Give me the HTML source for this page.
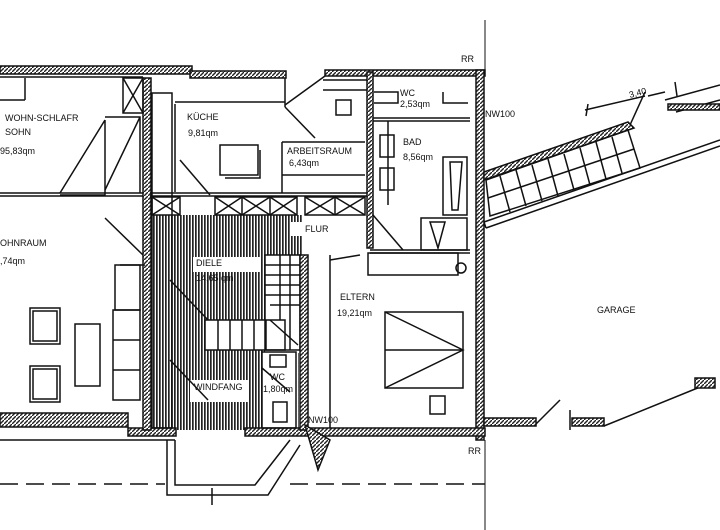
<!DOCTYPE html>
<html><head><meta charset="utf-8"><style>
html,body{margin:0;padding:0;background:#fff;}
svg{display:block;}
text{font-family:"Liberation Sans",sans-serif;fill:#111;font-size:9px;}
</style></head><body>
<svg width="720" height="530" viewBox="0 0 720 530" xmlns="http://www.w3.org/2000/svg">
<defs>
<pattern id="h" width="3" height="3" patternUnits="userSpaceOnUse">
<rect width="3" height="3" fill="#fff"/><rect width="1.7" height="3" fill="#222"/>
</pattern>
<pattern id="w" width="4" height="4" patternUnits="userSpaceOnUse">
<rect width="4" height="4" fill="#fff"/><path d="M0 4L4 0" stroke="#222" stroke-width="1.4"/>
</pattern>
</defs>
<g stroke="#111" fill="none" stroke-width="1.5">
<rect x="152" y="215" width="150" height="215" fill="url(#h)" stroke="none"/>
<rect x="265" y="255" width="37" height="98" fill="#fff" stroke="none"/>
<rect x="205" y="320" width="70" height="30" fill="#fff" stroke="none"/>
<rect x="262" y="352" width="36" height="78" fill="#fff" stroke="none"/>
<rect x="193" y="257" width="68" height="15" fill="#fff" stroke="none"/>
<rect x="190" y="380" width="58" height="22" fill="#fff" stroke="none"/>
<rect x="290" y="222" width="50" height="14" fill="#fff" stroke="none"/>
<rect x="0" y="66" width="192" height="8" fill="url(#w)"/>
<rect x="190" y="71" width="96" height="7" fill="url(#w)"/>
<rect x="325" y="70" width="160" height="6" fill="url(#w)"/>
<rect x="476" y="70" width="8" height="370" fill="url(#w)"/>
<rect x="0" y="413" width="128" height="14" fill="url(#w)"/>
<rect x="128" y="428" width="48" height="8" fill="url(#w)"/>
<rect x="245" y="428" width="240" height="8" fill="url(#w)"/>
<line x1="0" y1="440" x2="175" y2="440"/>
<rect x="143" y="78" width="8" height="352" fill="url(#w)"/>
<rect x="152" y="93" width="20" height="335"/>
<line x1="0" y1="193" x2="143" y2="193"/><line x1="0" y1="196" x2="143" y2="196"/>
<line x1="0" y1="77" x2="143" y2="77"/>
<line x1="25" y1="78" x2="25" y2="100"/><line x1="0" y1="100" x2="25" y2="100"/>
<rect x="123" y="78" width="20" height="35"/>
<path d="M123 78L143 113M143 78L123 113"/>
<path d="M105 120V195L60 195M105 120L60 193"/>
<path d="M105 117H140V193M140 117L105 190"/>
<path d="M105 218L143 255"/>
<line x1="175" y1="102" x2="285" y2="102"/>
<line x1="175" y1="104" x2="175" y2="192"/>
<line x1="285" y1="78" x2="285" y2="107"/>
<path d="M285 107L315 138"/>
<rect x="220" y="145" width="38" height="30"/><path d="M225 178H260V150"/>
<path d="M180 160L210 195"/>
<line x1="150" y1="193" x2="370" y2="193"/><line x1="150" y1="196" x2="370" y2="196"/>
<path d="M282 142V193M282 142H365M282 175H365"/>
<path d="M325 76L285 105"/>
<rect x="336" y="100" width="15" height="15"/>
<line x1="323" y1="80" x2="370" y2="80"/><line x1="323" y1="90" x2="370" y2="90"/>
<g>
<rect x="152" y="197" width="28" height="18"/><path d="M152 197L180 215M152 215L180 197"/>
<rect x="215" y="197" width="82" height="18"/>
<path d="M215 197L242 215M215 215L242 197M242 197L270 215M242 215L270 197M270 197L297 215M270 215L297 197"/>
<line x1="242" y1="197" x2="242" y2="215"/><line x1="270" y1="197" x2="270" y2="215"/>
<rect x="305" y="197" width="60" height="18"/>
<path d="M305 197L335 215M305 215L335 197M335 197L365 215M335 215L365 197"/><line x1="335" y1="197" x2="335" y2="215"/>
</g>
<rect x="367" y="72" width="6" height="176" fill="url(#w)"/>
<line x1="373" y1="118" x2="470" y2="118"/><line x1="373" y1="121" x2="470" y2="121"/>
<path d="M374 92H398V103H374"/><path d="M443 92V103H468"/>
<rect x="380" y="135" width="14" height="22"/><rect x="380" y="168" width="14" height="22"/>
<line x1="388" y1="121" x2="388" y2="205"/>
<rect x="443" y="157" width="24" height="58"/><path d="M450 162L462 162L458 210L452 210Z"/>
<rect x="421" y="218" width="46" height="32"/><path d="M430 222L445 222L438 248Z"/>
<path d="M373 215L403 250"/>
<line x1="370" y1="250" x2="470" y2="250"/><line x1="370" y1="253" x2="470" y2="253"/>
<circle cx="461" cy="268" r="5"/>
<rect x="368" y="253" width="90" height="22"/>
<rect x="265" y="255" width="35" height="95"/>
<path d="M265 265H300M265 275H300M265 285H300M265 295H300M270 305H300M280 255V320M290 255V350"/>
<rect x="205" y="320" width="80" height="30"/>
<path d="M218 320V350M230 320V350M242 320V350M254 320V350M266 320V350"/>
<path d="M170 280L208 320M270 320L298 345"/>
<path d="M170 360L208 400"/>
<rect x="262" y="352" width="34" height="76"/>
<rect x="270" y="355" width="16" height="12"/>
<rect x="273" y="402" width="14" height="20"/>
<path d="M262 368L290 392"/>
<rect x="300" y="255" width="8" height="175" fill="url(#w)"/>
<line x1="330" y1="255" x2="330" y2="428"/>
<path d="M330 260L360 255"/>
<rect x="385" y="312" width="78" height="76"/><path d="M385 312L463 350L385 388M385 350H463"/>
<rect x="430" y="396" width="15" height="18"/>
<rect x="115" y="265" width="25" height="45"/>
<rect x="113" y="310" width="27" height="90"/><path d="M113 340H140M113 370H140"/>
<rect x="30" y="308" width="30" height="36"/><rect x="33" y="311" width="24" height="30"/>
<rect x="30" y="366" width="30" height="36"/><rect x="33" y="369" width="24" height="30"/>
<rect x="75" y="324" width="25" height="62"/>
<line x1="120" y1="265" x2="145" y2="265"/>
<!-- garage stair -->
<path d="M484 172L628 122L634 128L484 180Z" fill="url(#w)"/>
<path d="M486 180L628 130L640 168L490 216Z"/>
<path d="M488 198L634 149"/>
<path d="M500 176L510 212M516 170L526 206M532 165L542 201M548 159L558 196M564 154L574 190M580 148L590 185M596 142L606 179M612 137L622 173"/>
<path d="M484 222L720 140M486 228L720 146" />
<path d="M484 222L486 228"/>
<path d="M665 100L720 85M676 112L720 100"/>
<rect x="668" y="104" width="52" height="6" fill="url(#w)"/>
<path d="M585 110L645 96M588 104L586 116M675 82L677 96M648 96L665 92"/>
<path d="M630 125L645 92"/>
<rect x="484" y="418" width="52" height="8" fill="url(#w)"/>
<rect x="572" y="418" width="32" height="8" fill="url(#w)"/>
<path d="M536 424L560 400M570 410V430M604 426L705 385"/>
<rect x="695" y="378" width="20" height="10" fill="url(#w)"/>
<path d="M167 440V495H268L300 445M175 440V485H255L290 440M212 488V505"/>
<path d="M305 425L330 440L318 470Z" fill="url(#w)"/>
<path d="M0 484H165M290 484H485" stroke-dasharray="18 8"/>
<path d="M485 20V70M485 440V530" stroke-width="1"/>
</g>
<text x="5" y="121">WOHN-SCHLAFR</text>
<text x="5" y="135">SOHN</text>
<text x="0" y="154">95,83qm</text>
<text x="187" y="120">KÜCHE</text>
<text x="188" y="136">9,81qm</text>
<text x="287" y="154" font-size="8.5">ARBEITSRAUM</text>
<text x="289" y="166" font-size="8.5">6,43qm</text>
<text x="400" y="96" font-size="8.5">WC</text>
<text x="400" y="107" font-size="8.5">2,53qm</text>
<text x="403" y="145" font-size="8.5">BAD</text>
<text x="403" y="160" font-size="8.5">8,56qm</text>
<text x="485" y="117" font-size="8.5">NW100</text>
<text x="461" y="62" font-size="8">RR</text>
<text x="468" y="454" font-size="8">RR</text>
<text x="0" y="246">OHNRAUM</text>
<text x="0" y="264">,74qm</text>
<text x="196" y="266" font-size="9">DIELE</text>
<text x="196" y="281" font-size="9" fill="#fff">14,65 qm</text>
<text x="194" y="390" font-size="9">WINDFANG</text>
<text x="270" y="380" font-size="8">WC</text>
<text x="263" y="392" font-size="8">1,80qm</text>
<text x="305" y="232" font-size="9">FLUR</text>
<text x="340" y="300">ELTERN</text>
<text x="337" y="316">19,21qm</text>
<text x="308" y="423" font-size="8.5">NW100</text>
<text x="597" y="313" font-size="9">GARAGE</text>
<text x="630" y="98" font-size="8" transform="rotate(-15 630 98)">3,40</text>
</svg>
</body></html>
